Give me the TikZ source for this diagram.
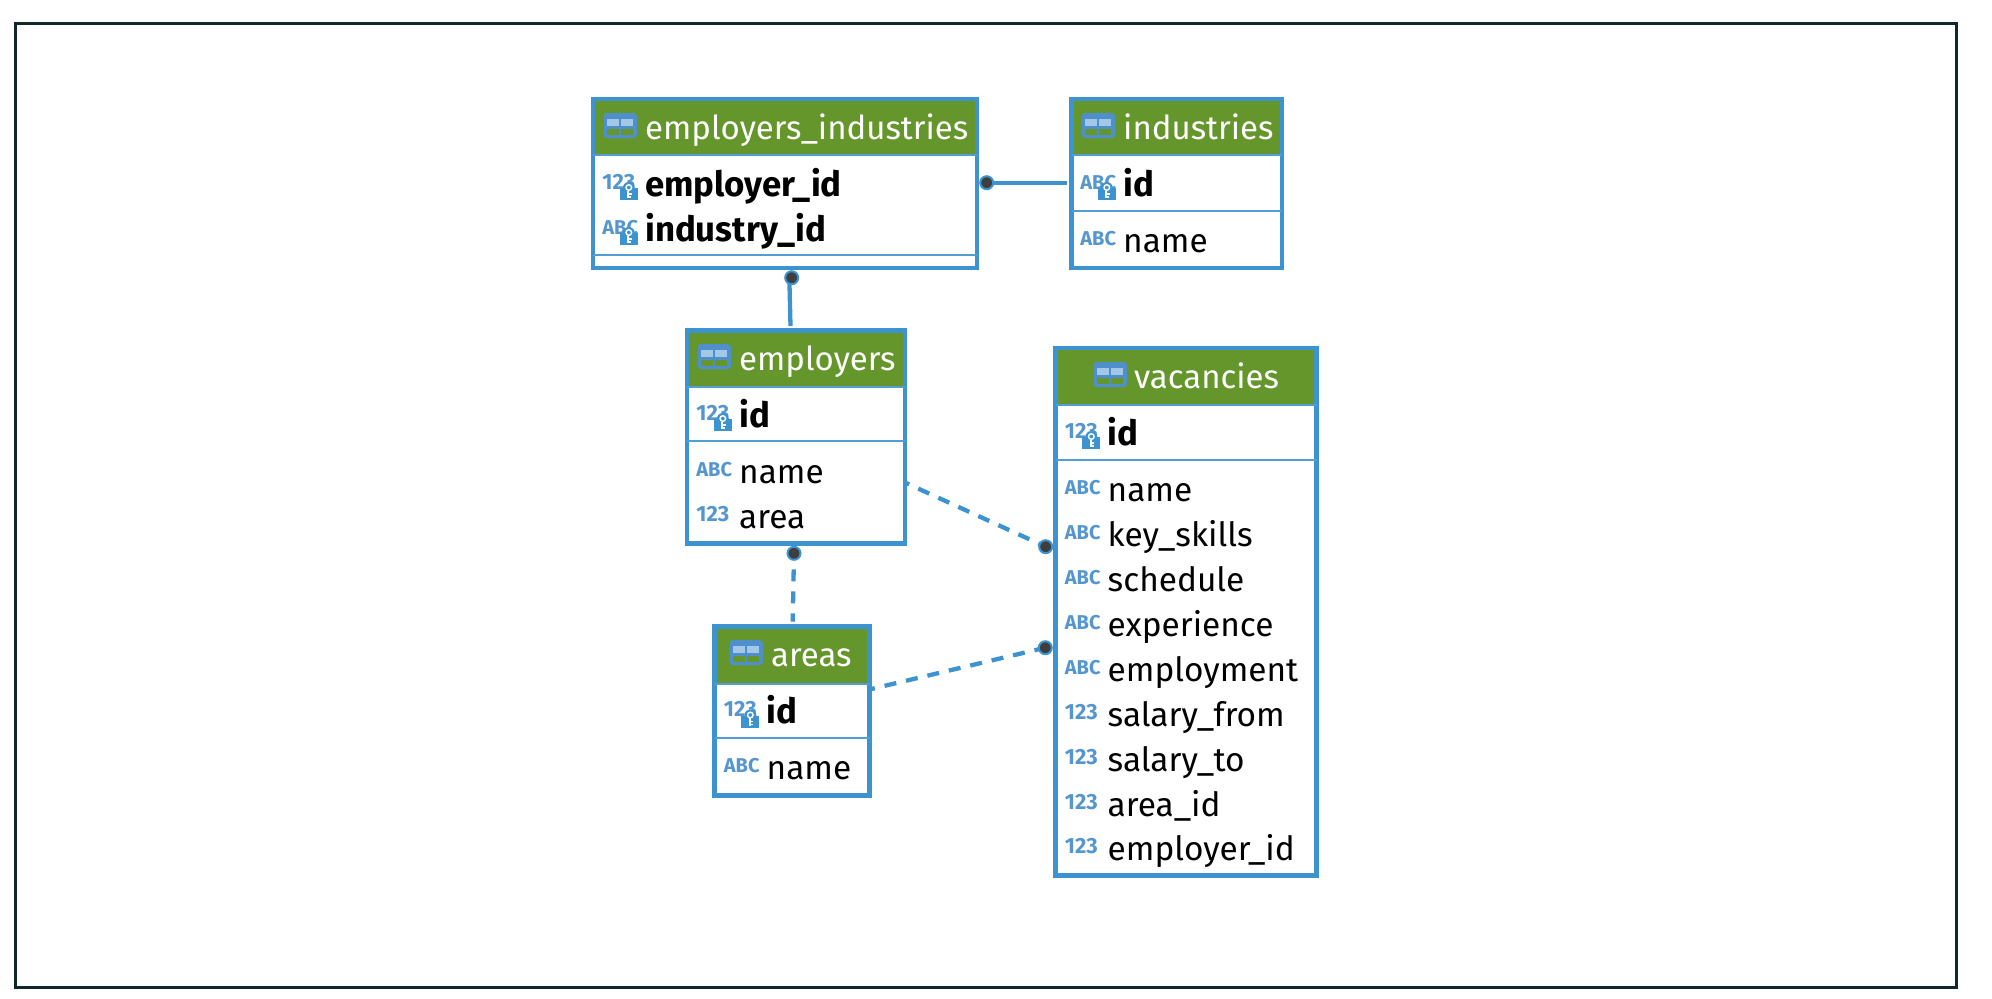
\documentclass[tikz,border=0pt]{standalone}
\usepackage{fontspec}
\setmainfont{Fira Sans}
\definecolor{tableblue}{HTML}{3D93CF}
\definecolor{headgreen}{HTML}{64962C}
\definecolor{iconblue}{HTML}{4F8FCB}
\definecolor{iconlight}{HTML}{A3C8E6}
\definecolor{typeblue}{HTML}{5596CE}
\definecolor{framedark}{HTML}{10282B}
\definecolor{dotdark}{HTML}{3E3E3E}
\tikzset{
	pageframe/.style={
		% The shape:
		rectangle,inner sep=0pt,outer sep=0pt,
		% The border:
		line width=1.5pt,draw=framedark},
	headbar/.style={
		rectangle,inner sep=0pt,outer sep=0pt,anchor=north west,
		fill=headgreen},
	tablebox/.style={
		% The shape:
		rectangle,inner sep=0pt,outer sep=0pt,anchor=north west,
		% The border:
		line width=2.25pt,draw=tableblue},
	rowline/.style={line width=1pt,draw=tableblue!90!white},
	titletext/.style={
		inner sep=0pt,anchor=base west,xshift=-0.6pt,
		text=white,font=\fontsize{16.5}{18}\selectfont},
	coltext/.style={
		inner sep=0pt,anchor=base west,xshift=-0.6pt,yshift=-0.5pt,
		text=black,font=\fontsize{16.7}{18}\selectfont},
	keytext/.style={coltext,font=\fontsize{17.4}{18}\selectfont\bfseries},
	typetext/.style={
		inner sep=0pt,anchor=base west,xshift=-21.4pt,yshift=3.5pt,
		text=typeblue,font=\fontsize{10}{12}\selectfont\bfseries},
	numtext/.style={typetext,font=\fontsize{11}{12}\selectfont\bfseries},
	refdot/.style={
		circle,inner sep=0pt,outer sep=0pt,minimum size=6.5pt,
		line width=1pt,draw=tableblue,fill=dotdark},
	refline/.style={line width=2.15pt,draw=tableblue},
	softline/.style={refline,dash pattern=on 6pt off 5pt},
	tableicon/.pic={
		\fill[iconblue,rounded corners=1.5pt] (0,0) rectangle (33,25);
		\fill[iconlight] (3.5,6) rectangle (15.5,13);
		\fill[iconlight] (17.5,6) rectangle (29.5,13);
		\fill[headgreen] (3.5,16) rectangle (15.5,22);
		\fill[headgreen] (17.5,16) rectangle (29.5,22);
	},
	keyicon/.pic={
		\fill[tableblue] (0,6) rectangle (18,18);
		\fill[tableblue] (9,6) circle [radius=6];
		\draw[white,line width=0.7pt] (9,5.5) circle [radius=2.8];
		\draw[white,line width=0.9pt] (8.5,8.5) -- (8.5,16);
		\draw[white,line width=0.7pt] (8.5,12) -- (12,12);
		\draw[white,line width=0.7pt] (8.5,15) -- (11.5,15);
	}
}

\begin{document}
\begin{tikzpicture}[x=0.5pt,y=-0.5pt]
	\useasboundingbox (0,0) rectangle (1992,998);
	\node[pageframe,minimum width=970.5pt,minimum height=482pt,anchor=north west] (page) at (15.5,23.5) {};
	% Table employers_industries
	\node[headbar,minimum width=192pt,minimum height=28pt] (eihead) at (593,99) {};
	\node[tablebox,minimum width=192pt,minimum height=84.5pt] (ei) at (eihead.north west) {};
	\draw[rowline] (eihead.south west) -- (eihead.south east);
	\coordinate (eisepl) at (593,255);
	\coordinate (eisepr) at (977,255);
	\draw[rowline] (eisepl) -- (eisepr);
	\node[titletext] (eititle) at (646,139) {employers\_industries};
	\pic at ([shift={(-41,-26)}]eititle.base west) {tableicon};
	\node[keytext] (eiemp) at (646,195) {employer\_id};
	\node[numtext] (eiempt) at (eiemp.base west) {123};
	\pic at ([shift={(-25,-14)}]eiemp.base west) {keyicon};
	\node[keytext] (eiind) at (646,240) {industry\_id};
	\node[typetext] (eiindt) at (eiind.base west) {ABC};
	\pic at ([shift={(-25,-14)}]eiind.base west) {keyicon};
	% Table industries
	\node[headbar,minimum width=105.25pt,minimum height=28pt] (indhead) at (1071.5,99) {};
	\node[tablebox,minimum width=105.25pt,minimum height=84.5pt] (ind) at (indhead.north west) {};
	\draw[rowline] (indhead.south west) -- (indhead.south east);
	\coordinate (indsepl) at (1071.5,210.5);
	\coordinate (indsepr) at (1282,210.5);
	\draw[rowline] (indsepl) -- (indsepr);
	\node[titletext] (indtitle) at (1124,139) {industries};
	\pic at ([shift={(-41,-26)}]indtitle.base west) {tableicon};
	\node[keytext] (indid) at (1124,195) {id};
	\node[typetext] (indidt) at (indid.base west) {ABC};
	\pic at ([shift={(-25,-14)}]indid.base west) {keyicon};
	\node[coltext] (indname) at (1124,251) {name};
	\node[typetext] (indnamet) at (indname.base west) {ABC};
	% Table employers
	\node[headbar,minimum width=109pt,minimum height=28pt] (emphead) at (687,330.5) {};
	\node[tablebox,minimum width=109pt,minimum height=106.5pt] (emp) at (emphead.north west) {};
	\draw[rowline] (emphead.south west) -- (emphead.south east);
	\coordinate (empsepl) at (687,441);
	\coordinate (empsepr) at (905,441);
	\draw[rowline] (empsepl) -- (empsepr);
	\node[titletext] (emptitle) at (740,370) {employers};
	\pic at ([shift={(-41,-26)}]emptitle.base west) {tableicon};
	\node[keytext] (empid) at (740,426) {id};
	\node[numtext] (empidt) at (empid.base west) {123};
	\pic at ([shift={(-25,-14)}]empid.base west) {keyicon};
	\node[coltext] (empname) at (740,482.5) {name};
	\node[typetext] (empnamet) at (empname.base west) {ABC};
	\node[coltext] (emparea) at (740,527) {area};
	\node[numtext] (empareat) at (emparea.base west) {123};
	% Table areas
	\node[headbar,minimum width=77.5pt,minimum height=28.5pt] (arhead) at (714.5,626.5) {};
	\node[tablebox,minimum width=77.5pt,minimum height=84.5pt] (ar) at (arhead.north west) {};
	\draw[rowline] (arhead.south west) -- (arhead.south east);
	\coordinate (arsepl) at (714.5,737.5);
	\coordinate (arsepr) at (869.5,737.5);
	\draw[rowline] (arsepl) -- (arsepr);
	\node[titletext] (artitle) at (772,666) {areas};
	\pic at ([shift={(-41,-26)}]artitle.base west) {tableicon};
	\node[keytext] (arid) at (767.5,722.5) {id};
	\node[numtext] (aridt) at (arid.base west) {123};
	\pic at ([shift={(-25,-14)}]arid.base west) {keyicon};
	\node[coltext] (arname) at (767.5,778) {name};
	\node[typetext] (arnamet) at (arname.base west) {ABC};
	% Table vacancies
	\node[headbar,minimum width=130.5pt,minimum height=28.5pt] (vachead) at (1055.5,348) {};
	\node[tablebox,minimum width=130.5pt,minimum height=263.75pt] (vac) at (vachead.north west) {};
	\draw[rowline] (vachead.south west) -- (vachead.south east);
	\coordinate (vacsepl) at (1055.5,459.5);
	\coordinate (vacsepr) at (1316.5,459.5);
	\draw[rowline] (vacsepl) -- (vacsepr);
	\node[titletext] (vactitle) at (1135,388) {vacancies};
	\pic at ([shift={(-40,-26)}]vactitle.base west) {tableicon};
	\node[keytext] (vacid) at (1108.5,444) {id};
	\node[numtext] (vacidt) at (vacid.base west) {123};
	\pic at ([shift={(-25,-14)}]vacid.base west) {keyicon};
	\node[coltext] (vacname) at (1108.5,500) {name};
	\node[typetext] (vacnamet) at (vacname.base west) {ABC};
	\node[coltext] (vacskills) at (1108.5,545) {key\_skills};
	\node[typetext] (vacskillst) at (vacskills.base west) {ABC};
	\node[coltext] (vacsched) at (1108.5,590) {schedule};
	\node[typetext] (vacschedt) at (vacsched.base west) {ABC};
	\node[coltext] (vacexp) at (1108.5,635) {experience};
	\node[typetext] (vacexpt) at (vacexp.base west) {ABC};
	\node[coltext] (vacempl) at (1108.5,680) {employment};
	\node[typetext] (vacemplt) at (vacempl.base west) {ABC};
	\node[coltext] (vacfrom) at (1108.5,725) {salary\_from};
	\node[numtext] (vacfromt) at (vacfrom.base west) {123};
	\node[coltext] (vacto) at (1108.5,770) {salary\_to};
	\node[numtext] (vactot) at (vacto.base west) {123};
	\node[coltext] (vacarea) at (1108.5,815) {area\_id};
	\node[numtext] (vacareat) at (vacarea.base west) {123};
	\node[coltext] (vacemp) at (1108.5,859.5) {employer\_id};
	\node[numtext] (vacempt) at (vacemp.base west) {123};
	% Dots on the referenced tables
	\node[refdot] (dotei) at (986.7,182.7) {};
	\node[refdot] (dotemp) at (791.7,277.7) {};
	\node[refdot] (dotar) at (794,553.3) {};
	\node[refdot] (dotvacup) at (1045.7,546.7) {};
	\node[refdot] (dotvacdn) at (1045.3,647.7) {};
	% Free ends of the lines
	\coordinate (indleft) at (1067,182.7);
	\coordinate (emptop) at (790.5,326);
	\coordinate (empright) at (906,483);
	\coordinate (artop) at (792.7,621.7);
	\coordinate (arright) at (870,689.3);
	% Lines between tables
	\draw[refline] (dotei) -- (indleft);
	\draw[refline] (dotemp.250) -- (emptop);
	\draw[softline,dash phase=4.25pt] (empright) -- (dotvacup);
	\draw[softline,dash phase=1.85pt] (artop) -- (dotar);
	\draw[softline,dash phase=3.5pt] (arright) -- (dotvacdn);
\end{tikzpicture}
\end{document}
